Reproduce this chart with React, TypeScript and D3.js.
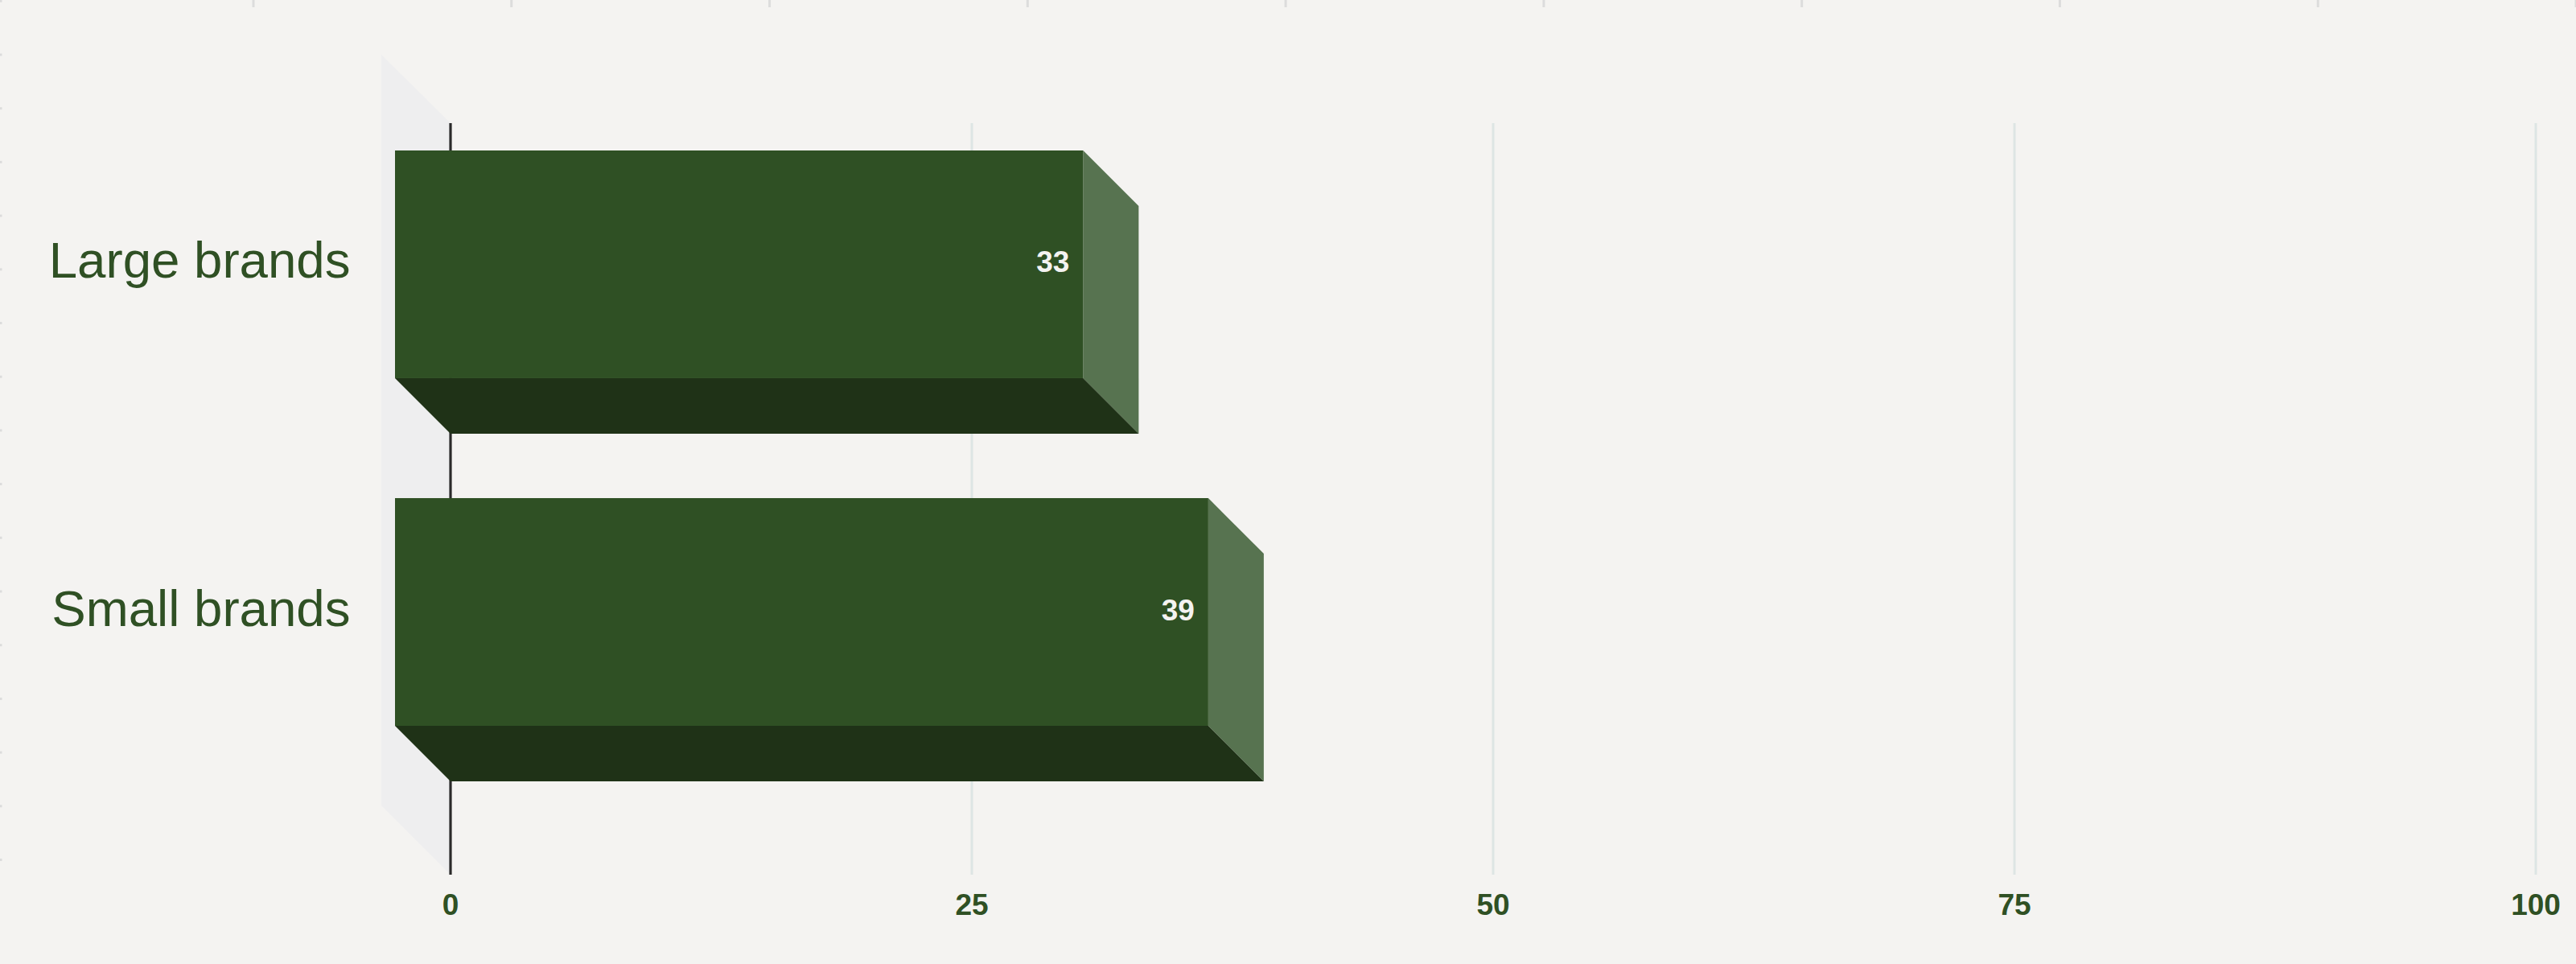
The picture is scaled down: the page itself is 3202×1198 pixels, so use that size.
import React from "react";
import * as d3 from "d3";

const categories = ["Large brands", "Small brands"];
const values = [33, 39];
const xTicks = [0, 25, 50, 75, 100];
const ghostTopTicks = [0, 1, 2, 3, 4, 5, 6, 7, 8, 9];
const ghostLeftTicks = d3.range(0, 17);

const W = 3202, H = 1198;
const BG = "#f4f3f1", FRONT = "#2f5024", SIDE = "#577350", BOTTOM = "#1f3217", WALL = "#eeeeef";
const GRID = "#dde5e4", AXIS = "#2a2a2a", GHOST = "#dcdcdc";
const DX = 69, DY = 69;
const FONT = "'Liberation Sans', Arial, Helvetica, sans-serif";

const plotTop = 153, plotBottom = 1087;
const x = d3.scaleLinear().domain([0, 100]).range([560, 3152]);
const y = d3.scaleBand<string>().domain(categories).range([187, 902]).paddingInner(0.345).paddingOuter(0);
const ghostX = d3.scaleLinear().domain([0, 9]).range([315, 3202]);
const ghostY = d3.scaleLinear().domain([0, 1]).range([1.3, 68]);

const pts = (p: number[][]) => p.map(q => q.join(",")).join(" ");

export default function App() {
  React.useEffect(() => {
    document.body.style.margin = "0";
    document.body.style.background = BG;
  }, []);
  const x0 = x(0);
  const bw = y.bandwidth();
  return (
    <svg width={W} height={H} viewBox={`0 0 ${W} ${H}`} style={{ display: "block", position: "absolute", left: 0, top: 0 }}>
      <rect width={W} height={H} fill={BG} />
      {ghostTopTicks.map(t => (
        <line key={t} x1={ghostX(t)} x2={ghostX(t)} y1={0} y2={9} stroke={GHOST} strokeWidth={3} />
      ))}
      {ghostLeftTicks.map(t => (
        <line key={t} x1={0} x2={2.5} y1={ghostY(t)} y2={ghostY(t)} stroke={GHOST} strokeWidth={3} />
      ))}
      <polygon
        fill={WALL}
        points={pts([[x0 - 86, plotTop - 85], [x0, plotTop], [x0, plotBottom], [x0 - 86, plotBottom - 86]])}
      />
      {xTicks.slice(1).map(t => (
        <line key={t} x1={x(t)} x2={x(t)} y1={plotTop} y2={plotBottom} stroke={GRID} strokeWidth={3} />
      ))}
      <line x1={x0} x2={x0} y1={plotTop} y2={plotBottom} stroke={AXIS} strokeWidth={3.2} />
      {categories.map((c, i) => {
        const top = y(c)!;
        const bot = top + bw;
        const xr = x(values[i]);
        const fl = x0 - DX, fr = xr - DX;
        return (
          <g key={c}>
            <polygon fill={SIDE} points={pts([[fr, top], [xr, top + DY], [xr, bot + DY], [fr, bot]])} />
            <polygon fill={BOTTOM} points={pts([[fl, bot], [fr, bot], [xr, bot + DY], [x0, bot + DY]])} />
            <rect x={fl} y={top} width={fr - fl} height={bw} fill={FRONT} />
            <text x={fr - 17} y={top + bw / 2 + 10} textAnchor="end" fontFamily={FONT} fontWeight={700} fontSize={37} fill={BG}>{values[i]}</text>
            <text x={435.5} y={top + bw / 2 + 17} textAnchor="end" fontFamily={FONT} fontSize={63.6} fill={FRONT}>{c}</text>
          </g>
        );
      })}
      {xTicks.map(t => (
        <text key={t} x={x(t)} y={1137} textAnchor="middle" fontFamily={FONT} fontWeight={700} fontSize={37} fill={FRONT}>{t}</text>
      ))}
    </svg>
  );
}
